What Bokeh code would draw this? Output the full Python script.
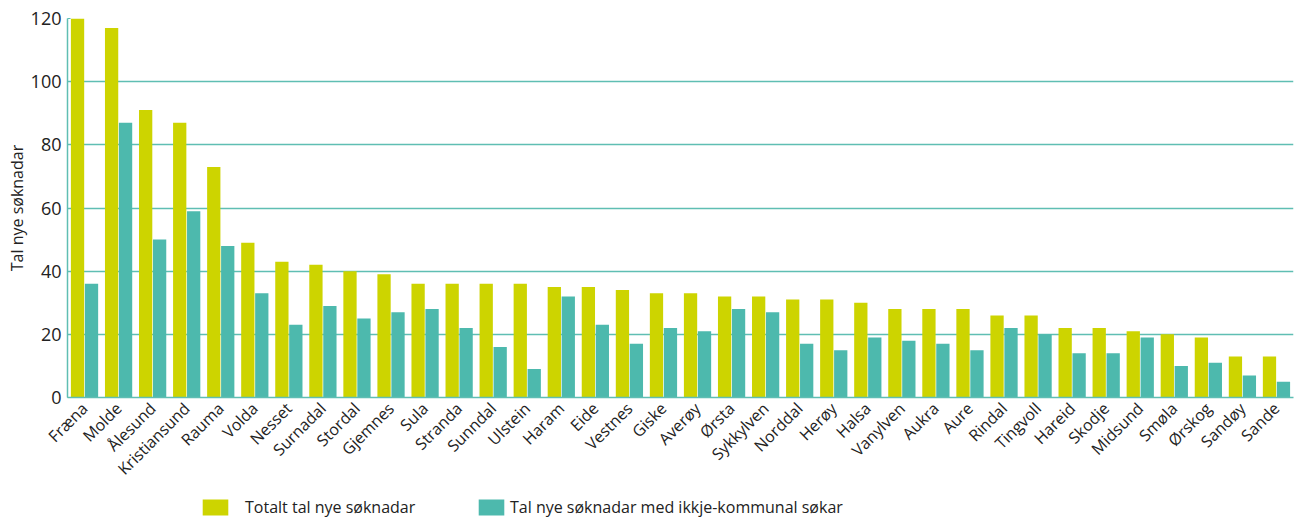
import math
from bokeh.plotting import figure
from bokeh.layouts import column
from bokeh.models import (FactorRange, Range1d, Legend, LegendItem,
                          ColumnDataSource, FixedTicker)
from bokeh.transform import dodge
from bokeh.embed import file_html
from bokeh.resources import INLINE

kommunar = ["Fræna", "Molde", "Ålesund", "Kristiansund", "Rauma", "Volda",
            "Nesset", "Surnadal", "Stordal", "Gjemnes", "Sula", "Stranda",
            "Sunndal", "Ulstein", "Haram", "Eide", "Vestnes", "Giske",
            "Averøy", "Ørsta", "Sykkylven", "Norddal", "Herøy", "Halsa",
            "Vanylven", "Aukra", "Aure", "Rindal", "Tingvoll", "Hareid",
            "Skodje", "Midsund", "Smøla", "Ørskog", "Sandøy", "Sande"]
totalt = [120, 117, 91, 87, 73, 49, 43, 42, 40, 39, 36, 36, 36, 36, 35, 35,
          34, 33, 33, 32, 32, 31, 31, 30, 28, 28, 28, 26, 26, 22, 22, 21,
          20, 19, 13, 13]
ikkje_kommunal = [36, 87, 50, 59, 48, 33, 23, 29, 25, 27, 28, 22, 16, 9, 32,
                  23, 17, 22, 21, 28, 27, 17, 15, 19, 18, 17, 15, 22, 20, 14,
                  14, 19, 10, 11, 7, 5]
y_ticks = [0, 20, 40, 60, 80, 100, 120]
serie_namn = ["Totalt tal nye søknadar",
              "Tal nye søknadar med ikkje-kommunal søkar"]

YELLOW = "#CDD400"
TEAL = "#4DB9AD"
GRID = "#5fbeb3"
TXT = "#222222"
FONT = "Open Sans"

src = ColumnDataSource(dict(k=kommunar, t=totalt, i=ikkje_kommunal))

p = figure(x_range=FactorRange(*kommunar, range_padding=0),
           y_range=Range1d(0, 120),
           width=1295, height=490,
           output_backend="svg", toolbar_location=None,
           min_border_left=67, min_border_right=2,
           min_border_top=18, min_border_bottom=93)

p.vbar(x=dodge("k", -0.205, range=p.x_range), top="t", width=0.39,
       source=src, color=YELLOW, line_color=None)
p.vbar(x=dodge("k", 0.205, range=p.x_range), top="i", width=0.39,
       source=src, color=TEAL, line_color=None)

p.outline_line_color = None
p.xgrid.grid_line_color = None
p.ygrid.grid_line_color = GRID
p.ygrid.grid_line_width = 1.5
p.ygrid.ticker = FixedTicker(ticks=y_ticks)

ya = p.yaxis[0]
ya.ticker = FixedTicker(ticks=y_ticks)
ya.axis_line_color = GRID
ya.axis_line_width = 1.5
ya.major_tick_in = 3
ya.major_tick_out = 0
ya.major_tick_line_color = GRID
ya.minor_tick_line_color = None
ya.major_label_text_font = FONT
ya.major_label_text_font_size = "18px"
ya.major_label_text_color = TXT
ya.major_label_standoff = 6
ya.axis_label = "Tal nye søknadar"
ya.axis_label_text_font = FONT
ya.axis_label_text_font_size = "16px"
ya.axis_label_text_font_style = "normal"
ya.axis_label_text_color = TXT
ya.axis_label_standoff = 0

xa = p.xaxis[0]
xa.axis_line_color = GRID
xa.axis_line_width = 1.5
xa.major_tick_in = 0
xa.major_tick_out = 0
xa.minor_tick_line_color = None
xa.major_label_orientation = math.pi / 4
xa.major_label_text_font = FONT
xa.major_label_text_font_size = "16px"
xa.major_label_text_color = TXT
xa.major_label_standoff = 8

# legend strip below the chart
lg = figure(width=1295, height=30, output_backend="svg",
            toolbar_location=None, x_axis_type=None, y_axis_type=None,
            x_range=Range1d(0, 1), y_range=Range1d(0, 1),
            min_border=0, outline_line_color=None)
lg.xgrid.grid_line_color = None
lg.ygrid.grid_line_color = None
d1 = lg.vbar(x=[-5], top=[0], width=0.1, color=YELLOW, line_color=None)
d2 = lg.vbar(x=[-5], top=[0], width=0.1, color=TEAL, line_color=None)

common = dict(orientation="horizontal", padding=0, margin=0,
              glyph_width=32, glyph_height=20,
              label_text_font=FONT, label_text_font_size="16px",
              label_text_color=TXT, label_height=20,
              border_line_color=None, background_fill_alpha=0)
leg1 = Legend(items=[LegendItem(label=serie_namn[0], renderers=[d1])],
              location=(132, 2), label_standoff=14, **common)
leg2 = Legend(items=[LegendItem(label=serie_namn[1], renderers=[d2])],
              location=(408, 2), label_standoff=3, **common)
lg.add_layout(leg1, "center")
lg.add_layout(leg2, "center")

layout = column(p, lg, spacing=0)
open("out.html", "w").write(file_html(layout, INLINE))
